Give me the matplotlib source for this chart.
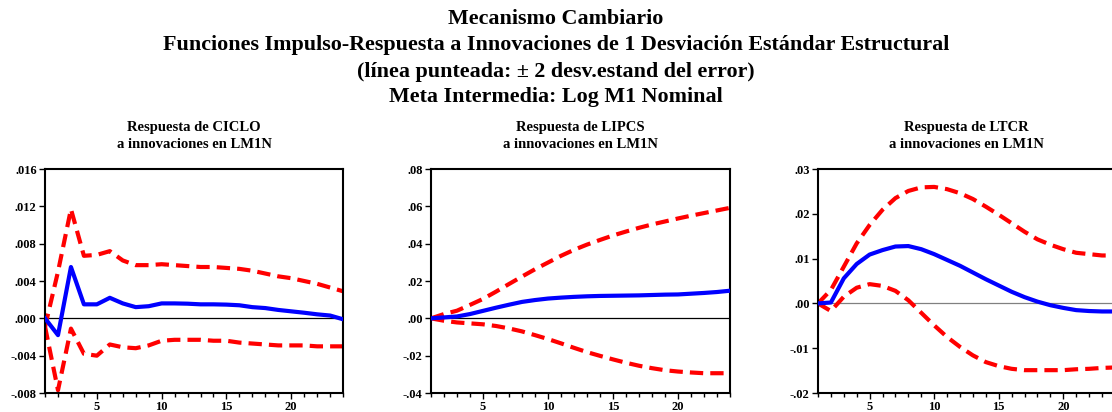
import matplotlib
matplotlib.use("Agg")
import matplotlib.pyplot as plt
from matplotlib.ticker import FuncFormatter, MultipleLocator

periods = list(range(1, 25))

# Respuesta de CICLO
ciclo_resp = [0.0, -0.0018, 0.0055, 0.0015, 0.0015, 0.0022, 0.0016, 0.0012, 0.0013, 0.0016,
              0.0016, 0.00157, 0.0015, 0.0015, 0.00147, 0.0014, 0.0012, 0.0011, 0.0009, 0.00075,
              0.0006, 0.00043, 0.0003, -0.0001]
ciclo_up = [-0.0009, 0.005, 0.0117, 0.0067, 0.0068, 0.0072, 0.0062, 0.0057, 0.0057, 0.0058,
            0.0057, 0.0056, 0.0055, 0.0055, 0.0054, 0.0053, 0.0051, 0.0048, 0.0045, 0.0043,
            0.0040, 0.0037, 0.0033, 0.0029]
ciclo_lo = [-0.0009, -0.0077, -0.0011, -0.0038, -0.0040, -0.0028, -0.0031, -0.0032, -0.0029, -0.0024,
            -0.0023, -0.0023, -0.0023, -0.0024, -0.0024, -0.0026, -0.0027, -0.0028, -0.0029, -0.0029,
            -0.0029, -0.0030, -0.0030, -0.0030]

# Respuesta de LIPCS
lipcs_resp = [0.0, 0.0005, 0.001, 0.0023, 0.004, 0.0057, 0.0073, 0.0088, 0.0098, 0.0106,
              0.0111, 0.0115, 0.0118, 0.012, 0.0121, 0.0122, 0.0123, 0.0125, 0.0127, 0.0128,
              0.0132, 0.0136, 0.0141, 0.0148]
lipcs_up = [0.0, 0.0023, 0.0041, 0.0072, 0.0104, 0.0143, 0.0184, 0.0224, 0.0263, 0.0299,
            0.0335, 0.0367, 0.0395, 0.042, 0.0444, 0.0465, 0.0485, 0.0503, 0.0519, 0.0535,
            0.055, 0.0564, 0.0578, 0.0592]
lipcs_lo = [0.0, -0.0013, -0.0022, -0.0027, -0.0032, -0.0041, -0.0054, -0.007, -0.009, -0.0111,
            -0.0134, -0.0158, -0.0181, -0.0201, -0.022, -0.0238, -0.0254, -0.0267, -0.0278, -0.0285,
            -0.029, -0.0294, -0.0294, -0.0294]

# Respuesta de LTCR
ltcr_resp = [0.0, 0.0002, 0.0056, 0.0088, 0.0109, 0.0119, 0.0127, 0.0128, 0.0121, 0.011,
             0.0097, 0.0084, 0.0069, 0.0054, 0.004, 0.0026, 0.0014, 0.0004, -0.0004, -0.001,
             -0.0015, -0.0017, -0.0018, -0.0018]
ltcr_up = [0.0, 0.003, 0.0082, 0.0134, 0.0175, 0.0209, 0.0235, 0.0251, 0.0259, 0.026,
           0.0255, 0.0246, 0.0233, 0.0216, 0.0198, 0.0179, 0.016, 0.0143, 0.0131, 0.0121,
           0.0113, 0.011, 0.0107, 0.0107]
ltcr_lo = [0.0, -0.0017, 0.0015, 0.0035, 0.0043, 0.0039, 0.0028, 0.0007, -0.0021, -0.0049,
           -0.0075, -0.0097, -0.0116, -0.0131, -0.014, -0.0146, -0.0149, -0.0149, -0.0149, -0.0149,
           -0.0147, -0.0146, -0.0144, -0.0143]

titles = ["Respuesta de CICLO\na innovaciones en LM1N",
          "Respuesta de LIPCS\na innovaciones en LM1N",
          "Respuesta de LTCR\na innovaciones en LM1N"]
ylims = [(-0.008, 0.016), (-0.04, 0.08), (-0.02, 0.03)]
ysteps = [0.004, 0.02, 0.01]
ydecimals = [3, 2, 2]
zero_colors = ["black", "black", "gray"]

panels = [(ciclo_resp, ciclo_up, ciclo_lo),
          (lipcs_resp, lipcs_up, lipcs_lo),
          (ltcr_resp, ltcr_up, ltcr_lo)]

main_title = ["Mecanismo Cambiario",
              "Funciones Impulso-Respuesta a Innovaciones de 1 Desviación Estándar Estructural",
              "(línea punteada: ± 2 desv.estand del error)",
              "Meta Intermedia: Log M1 Nominal"]

plt.rcParams["font.family"] = ["Liberation Serif", "DejaVu Serif"]
plt.rcParams["font.weight"] = "bold"

fig = plt.figure(figsize=(11.12, 4.12), dpi=100)

for line, y in zip(main_title, [0.955, 0.89, 0.826, 0.765]):
    fig.text(0.5, y, line, ha="center", va="center", fontsize=15.8, fontweight="bold")

lefts = [0.0405, 0.3876, 0.7356]
widths = [0.268, 0.2689, 0.267]


def make_fmt(dec):
    def fmt(v, pos):
        s = f"{v:.{dec}f}"
        if s.startswith("-0"):
            s = "-" + s[2:]
        elif s.startswith("0"):
            s = s[1:]
        return s
    return fmt


for i, (resp, up, lo) in enumerate(panels):
    ax = fig.add_axes([lefts[i], 0.0461, widths[i], 0.5437])
    ax.axhline(0, color=zero_colors[i], lw=0.9, zorder=1)
    ax.plot(periods, up, color="#ff0000", lw=3, dashes=(3.2, 1.7), zorder=2)
    ax.plot(periods, lo, color="#ff0000", lw=3, dashes=(3.2, 1.7), zorder=2)
    ax.plot(periods, resp, color="#0000ff", lw=3, zorder=3)
    ax.set_xlim(1, 24)
    ax.set_ylim(*ylims[i])
    ax.yaxis.set_major_locator(MultipleLocator(ysteps[i]))
    ax.yaxis.set_major_formatter(FuncFormatter(make_fmt(ydecimals[i])))
    ax.set_xticks([5, 10, 15, 20])
    ax.xaxis.set_minor_locator(MultipleLocator(1))
    ax.tick_params(axis="both", which="major", direction="out", length=4, width=1,
                   labelsize=9, pad=2)
    ax.tick_params(axis="x", which="minor", direction="out", length=3, width=1)
    ax.tick_params(top=False, right=False)
    for lab in ax.get_xticklabels() + ax.get_yticklabels():
        lab.set_fontweight("bold")
    for sp in ax.spines.values():
        sp.set_linewidth(1.5)
    ax.text(0.5, 1.147, titles[i], transform=ax.transAxes, ha="center", va="center",
            fontsize=10.5, fontweight="bold", linespacing=1.4)

fig.savefig("out.png", dpi=100)
